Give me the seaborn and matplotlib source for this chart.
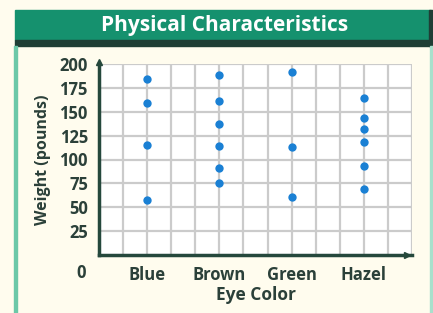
import numpy as np
import pandas as pd
import matplotlib
matplotlib.use('Agg')
import matplotlib.pyplot as plt
from matplotlib.patches import Rectangle
import seaborn as sns

# data
eye_colors = ['Blue', 'Brown', 'Green', 'Hazel']
blue = [184, 159, 115, 58]
brown = [188, 161, 137, 114, 91, 75]
green = [192, 113, 61]
hazel = [164, 143, 132, 118, 93, 69]
y_ticks = [25, 50, 75, 100, 125, 150, 175, 200]

df = pd.DataFrame({
    'eye': ['Blue'] * len(blue) + ['Brown'] * len(brown)
           + ['Green'] * len(green) + ['Hazel'] * len(hazel),
    'weight': blue + brown + green + hazel,
})

sns.set_theme(style='white')
plt.rcParams['font.family'] = ['Open Sans', 'DejaVu Sans']

W, H = 433, 313
text_col = '#2b4039'
axis_col = '#25483c'

fig = plt.figure(figsize=(W / 100, H / 100), dpi=100, facecolor='#fffcee')

# frame: header band and side borders
def px_rect(x0, y0, x1, y1, color):
    fig.patches.append(Rectangle((x0 / W, 1 - y1 / H), (x1 - x0) / W, (y1 - y0) / H,
                                 transform=fig.transFigure, color=color, zorder=0))

px_rect(15, 10, 431, 40, '#15916e')
px_rect(15, 40, 433, 46, '#1f3e35')
px_rect(429, 10, 433, 46, '#1f3e35')
px_rect(14, 46, 17, 313, '#6cc8a8')
px_rect(430, 46, 433, 313, '#a8e0cc')
fig.text(225 / W, 1 - 25 / H, 'Physical Characteristics', color='white',
         fontsize=15, fontweight='bold', ha='center', va='center')

ax = fig.add_axes([99 / W, 1 - 255 / H, (412 - 99) / W, (255 - 64) / H])
ax.set_facecolor('white')

sns.stripplot(data=df, x='eye', y='weight', order=eye_colors, jitter=False,
              color='#1a80d4', size=6, linewidth=0, ax=ax, zorder=3)

ax.set_xlim(-2 / 3, 3 + 2 / 3)
ax.set_ylim(0, 200)
ax.set_xticks(range(len(eye_colors)))
ax.set_xticklabels(eye_colors)
ax.set_xticks(np.arange(-2 / 3, 3.7, 1 / 3), minor=True)
ax.set_yticks(y_ticks)
ax.set_yticks(y_ticks, minor=True)
ax.grid(True, which='both', color='#cbcbcb', linewidth=1.6, zorder=0)
ax.set_axisbelow(True)
ax.tick_params(which='both', length=0, colors=text_col, labelsize=12, pad=8)
ax.tick_params(axis='x', pad=8)
for lab in ax.get_xticklabels() + ax.get_yticklabels():
    lab.set_fontweight('bold')

for side in ['top', 'right']:
    ax.spines[side].set_visible(False)
for side in ['left', 'bottom']:
    ax.spines[side].set_color(axis_col)
    ax.spines[side].set_linewidth(2.5)
    ax.spines[side].set_zorder(4)

# arrow heads on the axes
ax.plot([0], [1.01], marker='^', color=axis_col, markersize=4,
        transform=ax.transAxes, clip_on=False, zorder=5)
ax.plot([0.985], [0], marker='>', color=axis_col, markersize=4,
        transform=ax.transAxes, clip_on=False, zorder=5)

# the "0" sits on the same row as the category labels
ax.text(-0.058, -0.095, '0', transform=ax.transAxes, ha='center', va='center',
        color=text_col, fontsize=12, fontweight='bold')

ax.set_xlabel('Eye Color', color=text_col, fontsize=12.5, fontweight='bold', labelpad=1)
ax.set_ylabel('Weight (pounds)', color=text_col, fontsize=11.5, fontweight='bold', labelpad=6)

fig.savefig('out.png', dpi=100, facecolor=fig.get_facecolor())
